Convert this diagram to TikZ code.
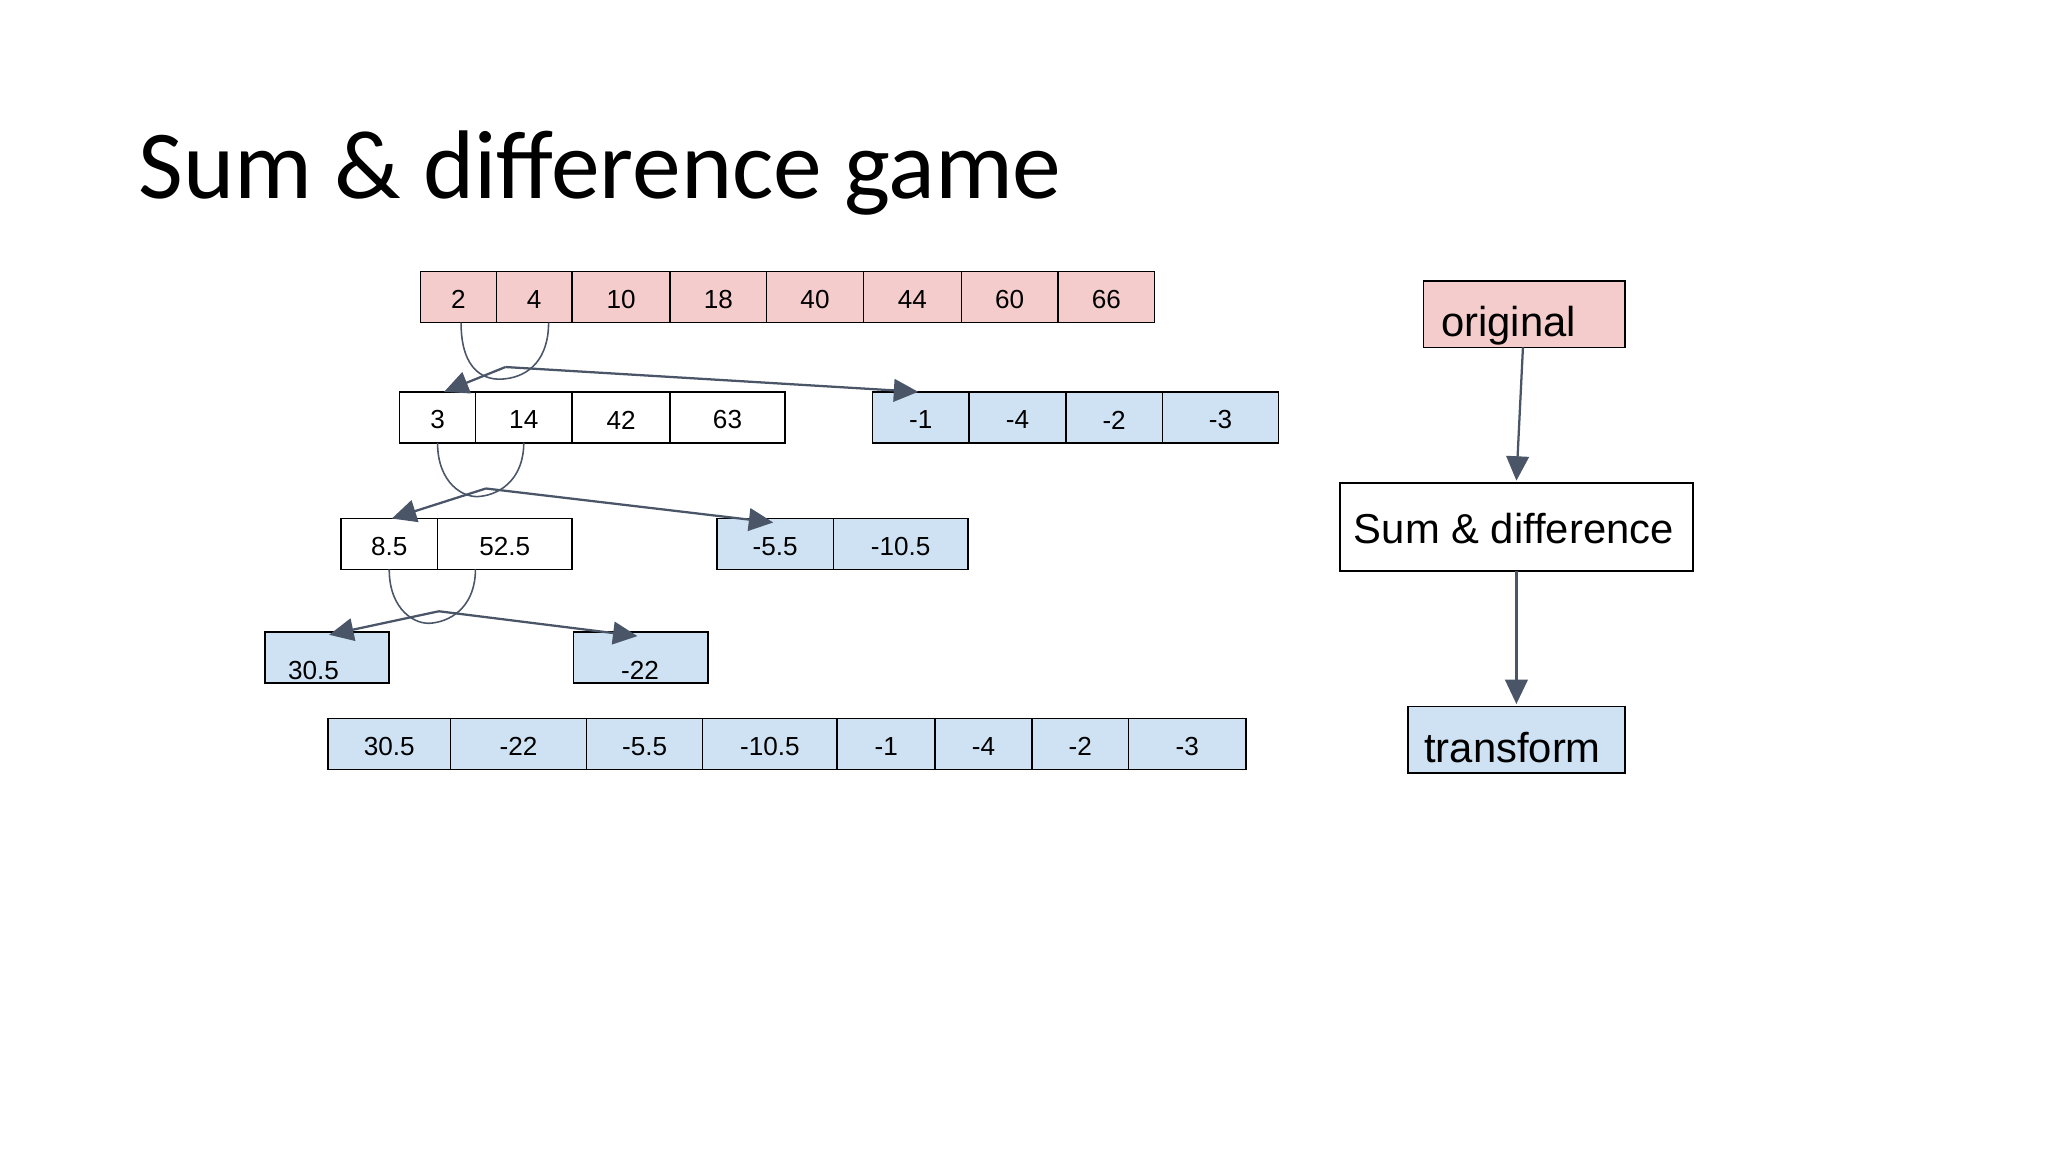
\documentclass[tikz,border=0pt]{standalone}
\usepackage{fontspec}
\setmainfont{Liberation Sans}
\newfontfamily\titlefont{Carlito}
\usetikzlibrary{arrows.meta}
\definecolor{pinkc}{HTML}{F4CCCC}
\definecolor{bluec}{HTML}{CFE2F3}
\definecolor{arr}{HTML}{4A5568}
\newcommand{\mycell}[7]{\draw[fill=#6,line width=0.9pt] (#2,#4) rectangle (#3,#5);
  \node[font=\fontsize{15}{18}\selectfont,inner sep=0] (#1) at ({(#2+#3)/2},{(#4+#5)/2+2}) {#7};}
\tikzset{conn/.style={draw=arr,line width=1.3pt,-{Triangle[length=14pt,width=13pt]}},
  arc/.style={draw=arr,line width=0.9pt}}
\begin{document}
\begin{tikzpicture}[x=0.75pt,y=-0.75pt]
\useasboundingbox (0,0) rectangle (1568,882);
\node[anchor=base west,inner sep=0,font=\titlefont\fontsize{56}{60}\selectfont] (title) at (106,152) {Sum \& difference game};
% row 1
\mycell{a1}{322}{380}{208}{247}{pinkc}{2}
\mycell{a2}{380}{438}{208}{247}{pinkc}{4}
\mycell{a3}{438}{513}{208}{247}{pinkc}{10}
\mycell{a4}{513}{587}{208}{247}{pinkc}{18}
\mycell{a5}{587}{661}{208}{247}{pinkc}{40}
\mycell{a6}{661}{736}{208}{247}{pinkc}{44}
\mycell{a7}{736}{810}{208}{247}{pinkc}{60}
\mycell{a8}{810}{884}{208}{247}{pinkc}{66}
% row 2
\mycell{b1}{306}{364}{300}{339}{white}{3}
\mycell{b2}{364}{438}{300}{339}{white}{14}
\mycell{b3}{438}{513}{300}{339}{white}{42}
\mycell{b4}{513}{601}{300}{339}{white}{63}
\mycell{c1}{668}{742}{300}{339}{bluec}{-1}
\mycell{c2}{742}{816}{300}{339}{bluec}{-4}
\mycell{c3}{816}{890}{300}{339}{bluec}{-2}
\mycell{c4}{890}{979}{300}{339}{bluec}{-3}
% row 3
\mycell{d1}{261}{335}{397}{436}{white}{8.5}
\mycell{d2}{335}{438}{397}{436}{white}{52.5}
\mycell{e1}{549}{638}{397}{436}{bluec}{-5.5}
\mycell{e2}{638}{741}{397}{436}{bluec}{-10.5}
% row 4
\draw[fill=bluec,line width=0.9pt] (203,484) rectangle (298,523);
\node[font=\fontsize{15}{18}\selectfont,inner sep=0] (f1) at (240,513) {30.5};
\draw[fill=bluec,line width=0.9pt] (439,484) rectangle (542,523);
\node[font=\fontsize{15}{18}\selectfont,inner sep=0] (f2) at (490,513) {-22};
% row 5
\mycell{g1}{251}{345}{550}{589}{bluec}{30.5}
\mycell{g2}{345}{449}{550}{589}{bluec}{-22}
\mycell{g3}{449}{538}{550}{589}{bluec}{-5.5}
\mycell{g4}{538}{641}{550}{589}{bluec}{-10.5}
\mycell{g5}{641}{716}{550}{589}{bluec}{-1}
\mycell{g6}{716}{790}{550}{589}{bluec}{-4}
\mycell{g7}{790}{864}{550}{589}{bluec}{-2}
\mycell{g8}{864}{954}{550}{589}{bluec}{-3}
% curves and arrows
\coordinate (s1) at (353,247); \coordinate (t1) at (420,247); \coordinate (m1) at (387,281);
\coordinate (p1) at (340,300); \coordinate (q1) at (703,300);
\draw[arc] (s1) .. controls (353,285) and (372,292) .. (387,290) .. controls (405,288) and (420,275) .. (t1);
\draw[conn] (m1) -- (p1);
\draw[conn] (m1) -- (q1);
\coordinate (s2) at (335,339); \coordinate (t2) at (401,339); \coordinate (m2) at (372,374);
\coordinate (p2) at (300,397); \coordinate (q2) at (592,400);
\draw[arc] (s2) .. controls (335,370) and (355,382) .. (368,380) .. controls (385,378) and (401,365) .. (t2);
\draw[conn] (m2) -- (p2);
\draw[conn] (m2) -- (q2);
\coordinate (s3) at (298,436); \coordinate (t3) at (364,436); \coordinate (m3) at (336,468);
\coordinate (p3) at (252,486); \coordinate (q3) at (488,487);
\draw[arc] (s3) .. controls (298,467) and (318,479) .. (331,477) .. controls (348,475) and (364,462) .. (t3);
\draw[conn] (m3) -- (p3);
\draw[conn] (m3) -- (q3);
% right side
\draw[fill=pinkc,line width=0.9pt] (1090,215) rectangle (1244,266);
\node[font=\fontsize{24}{28}\selectfont,inner sep=0,anchor=base] (orig) at (1155,258) {original};
\coordinate (origb) at (1166,266);
\draw[fill=white,line width=0.9pt] (1026,370) rectangle (1296,437);
\node[font=\fontsize{24}{28}\selectfont,inner sep=0] (sd) at (1159,405) {Sum \& difference};
\coordinate (sdt) at (1161,368); \coordinate (sdb) at (1161,437);
\draw[fill=bluec,line width=0.9pt] (1078,541) rectangle (1244,592);
\node[font=\fontsize{24}{28}\selectfont,inner sep=0,anchor=base] (tr) at (1158,584) {transform};
\coordinate (trt) at (1161,539);
\draw[conn] (origb) -- (sdt);
\draw[conn] (sdb) -- (trt);
\end{tikzpicture}
\end{document}
